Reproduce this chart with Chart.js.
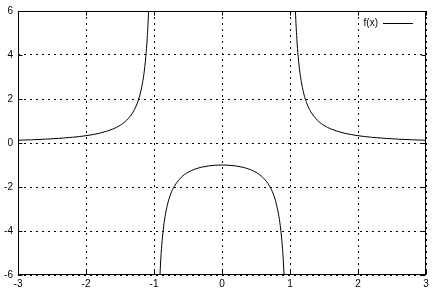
<!DOCTYPE html>
<html>
<head>
<meta charset="utf-8">
<script src="https://cdn.jsdelivr.net/npm/chart.js@4/dist/chart.umd.min.js"></script>
<style>
  html, body { margin: 0; padding: 0; background: #fff; }
  canvas { display: block; }
</style>
</head>
<body>
<canvas id="chartCanvas" width="432" height="290"></canvas>
<script>
// f(x), one array pair per branch
const leftX = [-3, -2.8, -2.6, -2.4, -2.2, -2, -1.8, -1.6, -1.5, -1.4, -1.3, -1.25, -1.2, -1.15, -1.12, -1.1, -1.08, -1.06];
const leftY = [0.125, 0.146, 0.174, 0.21, 0.26, 0.333, 0.446, 0.641, 0.8, 1.042, 1.449, 1.778, 2.273, 3.101, 3.931, 4.762, 6.01, 8.09];
const midX = [-0.92, -0.9, -0.88, -0.85, -0.8, -0.75, -0.7, -0.6, -0.5, -0.4, -0.3, -0.2, -0.1, 0, 0.1, 0.2, 0.3, 0.4, 0.5, 0.6, 0.7, 0.75, 0.8, 0.85, 0.88, 0.9, 0.92];
const midY = [-6.51, -5.263, -4.433, -3.604, -2.778, -2.286, -1.961, -1.563, -1.333, -1.19, -1.099, -1.042, -1.01, -1, -1.01, -1.042, -1.099, -1.19, -1.333, -1.563, -1.961, -2.286, -2.778, -3.604, -4.433, -5.263, -6.51];
const rightX = [1.06, 1.08, 1.1, 1.12, 1.15, 1.2, 1.25, 1.3, 1.4, 1.5, 1.6, 1.8, 2, 2.2, 2.4, 2.6, 2.8, 3];
const rightY = [8.09, 6.01, 4.762, 3.931, 3.101, 2.273, 1.778, 1.449, 1.042, 0.8, 0.641, 0.446, 0.333, 0.26, 0.21, 0.174, 0.146, 0.125];
const xTicks = [-3, -2, -1, 0, 1, 2, 3];
const yTicks = [-6, -4, -2, 0, 2, 4, 6];
const seriesLabel = "f(x)";

const pts = (xs, ys) => xs.map((x, i) => ({ x: x, y: ys[i] }));
const data = [].concat(
  pts(leftX, leftY), [{ x: -1, y: null }],
  pts(midX, midY), [{ x: 1, y: null }],
  pts(rightX, rightY)
);

const FONT = { family: "'Liberation Sans', Arial, sans-serif", size: 10 };

// gnuplot style: solid frame, little inward ticks on all four borders, key in top right
const extras = {
  id: "extras",
  afterDraw(chart) {
    const { ctx, chartArea: a, scales } = chart;
    ctx.save();
    ctx.strokeStyle = "#000";
    ctx.lineWidth = 1;
    ctx.setLineDash([]);
    const L = Math.round(a.left) + 0.5, R = Math.round(a.right) - 0.5;
    const T = Math.round(a.top) + 0.5, B = Math.round(a.bottom) - 0.5;
    ctx.strokeRect(L, T, R - L, B - T);
    ctx.beginPath();
    xTicks.forEach(v => {
      const px = Math.round(scales.x.getPixelForValue(v)) + 0.5;
      ctx.moveTo(px, B); ctx.lineTo(px, B - 4);
      ctx.moveTo(px, T); ctx.lineTo(px, T + 4);
    });
    yTicks.forEach(v => {
      const py = Math.round(scales.y.getPixelForValue(v)) + 0.5;
      ctx.moveTo(L, py); ctx.lineTo(L + 4, py);
      ctx.moveTo(R, py); ctx.lineTo(R - 4, py);
    });
    ctx.stroke();

    // key
    const ky = a.top + 12.5;
    ctx.fillStyle = "#000";
    ctx.font = FONT.size + "px " + FONT.family;
    ctx.textAlign = "right";
    ctx.textBaseline = "middle";
    ctx.fillText(chart.data.datasets[0].label, a.right - 48, ky);
    ctx.beginPath();
    ctx.moveTo(a.right - 43, ky);
    ctx.lineTo(a.right - 13, ky);
    ctx.stroke();
    ctx.restore();
  }
};

new Chart(document.getElementById("chartCanvas"), {
  type: "scatter",
  data: {
    datasets: [{
      label: seriesLabel,
      data: data,
      showLine: true,
      spanGaps: false,
      borderColor: "#000",
      borderWidth: 1,
      pointRadius: 0,
      cubicInterpolationMode: "monotone"
    }]
  },
  options: {
    responsive: false,
    animation: false,
    devicePixelRatio: 1,
    layout: { padding: { top: 4, right: 6, left: 0, bottom: 0 } },
    plugins: { legend: { display: false }, tooltip: { enabled: false } },
    scales: {
      x: {
        type: "linear",
        min: -3, max: 3,
        afterFit: s => { s.height = 15; },
        afterBuildTicks: s => { s.ticks = xTicks.map(v => ({ value: v })); },
        ticks: { color: "#000", font: FONT, padding: 3, maxRotation: 0 },
        grid: { color: "#000", drawTicks: false, lineWidth: 1 },
        border: { display: false, dash: [2, 4] }
      },
      y: {
        type: "linear",
        min: -6, max: 6,
        afterFit: s => { s.width = 18; },
        afterBuildTicks: s => { s.ticks = yTicks.map(v => ({ value: v })); },
        ticks: { color: "#000", font: FONT, padding: 5 },
        grid: { color: "#000", drawTicks: false, lineWidth: 1 },
        border: { display: false, dash: [2, 4] }
      }
    }
  },
  plugins: [extras]
});
</script>
</body>
</html>
